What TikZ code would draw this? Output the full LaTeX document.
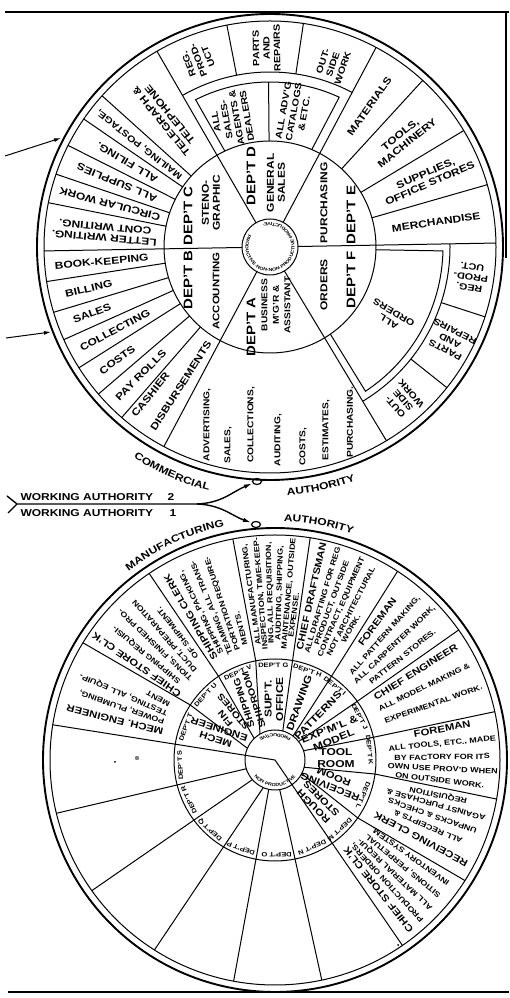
\documentclass[tikz,border=0pt]{standalone}
\usepackage{fontspec}
\setmainfont{Liberation Sans}[FakeStretch=1.2]
\usetikzlibrary{calc,decorations.text,arrows.meta}

% type sizes of the two wheels
\newcommand\wlab{\fontsize{10}{11}\selectfont\bfseries}
\newcommand\wsmall{\fontsize{9}{10.5}\selectfont\bfseries}
\newcommand\wdept{\fontsize{12.5}{14}\selectfont\bfseries}
\newcommand\wmid{\fontsize{10}{11.5}\selectfont\bfseries}
\newcommand\wtitle{\fontsize{9.5}{10}\selectfont\bfseries}
\newcommand\wbody{\fontsize{7.5}{8}\selectfont\bfseries}
\newcommand\wtag{\fontsize{6.3}{7}\selectfont\bfseries}
\newcommand\whub{\fontsize{4.4}{5}\selectfont\bfseries}
\newcommand\warc{\fontsize{10}{11}\selectfont\bfseries}

\begin{document}
\begin{tikzpicture}[x=1pt,y=1pt,line width=1pt,
		lab/.style={font=\wlab, align=center, inner sep=0pt},
		ttl/.style={font=\wtitle, inner sep=0pt},
		body/.style={font=\wbody, inner sep=0pt},
		ring/.style={line width=1.9pt},
		arctext/.style={decorate, decoration={text along path, text align=center, text={|\warc|#1}}},
		tip/.style={-{Latex[length=8pt,width=4.5pt]}}]
	\fill[white] (0,0) rectangle (509,998);
	\useasboundingbox (0,0) rectangle (509,998);
	% page edges
	\draw[line width=1.2pt] (5,986) -- (509,986);
	\draw[line width=1.2pt] (506,986) -- (506,740);
	\draw[line width=2pt] (8,6) -- (509,6);

	% ---------------- commercial wheel
	\coordinate (T) at (270,751);
	\draw[ring] (T) circle (233);
	\draw (T) circle (226);
	\draw (T) circle (106);
	\draw (T) circle (28);
	\foreach \ang in {1,62,120,181,242,301}
		\draw ($(T)+(\ang:28)$) -- ($(T)+(\ang:226)$);
	\foreach \ang in {138,145.5,153.3,161.2,168.7,188.8,196.8,204.2,212.3,220.6,229,16,31,47.5}
		\draw ($(T)+(\ang:106)$) -- ($(T)+(\ang:226)$);
	% sales boxes
	\draw ($(T)+(62:175)$) arc[start angle=62,end angle=120,radius=175];
	\foreach \ang in {81.5,101}
		\draw ($(T)+(\ang:175)$) -- ($(T)+(\ang:226)$);
	\draw ($(T)+(115.2:106)$) -- ($(T)+(116.8:165)$) arc[start angle=116.8,end angle=65.2,radius=165] -- ($(T)+(66.8:106)$);
	\draw ($(T)+(90.5:106)$) -- ($(T)+(90.5:165)$);
	% orders box
	\draw ($(T)+(1:180)$) arc[start angle=1,end angle=-59,radius=180];
	\draw ($(T)+(-1.5:106)$) -- ($(T)+(-1.3:173)$) arc[start angle=-1.3,end angle=-56.5,radius=173] -- ($(T)+(-55.3:106)$);
	\foreach \ang in {-18,-38.5}
		\draw ($(T)+(\ang:180)$) -- ($(T)+(\ang:226)$);
	\path[decorate, decoration={text along path, text={|\whub|PRODUCTIVE·NON·NON·PRODUCTIVE·PRODUCTIVE·}}] ($(T)+(150:24.5)$) arc[start angle=150,end angle=505,radius=24.5];

	\node[font=\wdept, rotate=90] (deptC) at ($(T)+(-82,31)$) {DEP'T C};
	\node[lab, rotate=90] (steno) at ($(T)+(-59,44)$) {STENO-\\GRAPHIC};
	\node[font=\wdept, rotate=90] (deptB) at ($(T)+(-82,-33)$) {DEP'T B};
	\node[lab, font={\fontsize{9.5}{11}\selectfont\bfseries}, rotate=90] (accounting) at ($(T)+(-54,-44)$) {ACCOUNTING};
	\node[font=\wdept, rotate=90] (deptD) at ($(T)+(-19,71)$) {DEP'T D};
	\node[lab, rotate=90] (sales) at ($(T)+(6,64)$) {GENERAL\\SALES};
	\node[lab, rotate=90] (purchasing) at ($(T)+(54,44)$) {PURCHASING};
	\node[font=\wdept, rotate=90] (deptE) at ($(T)+(81,32)$) {DEP'T E};
	\node[lab, rotate=90] (orders) at ($(T)+(54,-38)$) {ORDERS};
	\node[font=\wdept, rotate=90] (deptF) at ($(T)+(81,-33)$) {DEP'T F};
	\node[font=\wdept, rotate=90] (deptA) at ($(T)+(-19,-80)$) {DEP'T A};
	\node[lab, font={\fontsize{8.5}{11.5}\selectfont\bfseries}, rotate=90] (manager) at ($(T)+(6,-58)$) {BUSINESS\\M'G'R \&\\ASSISTANT};

	\foreach \ang/\rad/\rot/\txt [count=\i] in {
			129/166/129/{TELEGRAPH \&\\TELEPHONE},
			141.8/166/141.8/{{\wsmall MAILING, POSTAGE,}},
			149.4/166/149.4/{ALL FILING.},
			157.2/166/157.2/{ALL SUPPLIES},
			165/166/165/{CIRCULAR WORK},
			175/166/175/{LETTER WRITING.\\CONT WRITING.},
			185/169/5/{BOOK-KEEPING},
			193/186/13/{BILLING},
			200.5/190/20.5/{SALES},
			208.3/176/28.3/{COLLECTING},
			216.5/190/36.5/{COSTS},
			224.8/182/44.8/{PAY ROLLS},
			231/190/51/{CASHIER},
			237.3/165/57.3/{DISBURSEMENTS},
			54.7/172/54.7/{MATERIALS},
			39/172/39/{TOOLS,\\MACHINERY},
			23.5/172/23.5/{SUPPLIES,\\OFFICE STORES},
			8.5/168/8.5/{MERCHANDISE}}
		\node[lab, rotate=\rot] (outT\i) at ($(T)+(\ang:\rad)$) {\txt};
	\foreach \ang/\rad/\rot/\txt [count=\i] in {
			111/200/111/{REG.\\PROD-\\UCT},
			91/199/91/{PARTS\\AND\\REPAIRS},
			71/193/71/{OUT-\\SIDE\\WORK},
			106.7/134/100/{ALL\\SALES-\\AGENTS \&\\DEALERS},
			80/137/80/{ALL ADV'G\\CATALOGS\\\& ETC.},
			-8.5/203/171.5/{REG.\\PROD-\\UCT.},
			-27.5/203/152.5/{PARTS\\AND\\REPAIRS},
			-49/203/131/{OUT-\\SIDE\\WORK},
			-30/140/150/{ALL\\ORDERS}}
		\node[lab, font=\wsmall, rotate=\rot] (boxT\i) at ($(T)+(\ang:\rad)$) {\txt};
	\foreach \dx/\dy/\txt [count=\i] in {-63/-178/{ADVERTISING,}, -42/-198/{SALES,}, -19/-178/{COLLECTIONS,},
			8/-193/{AUDITING,}, 33/-200/{COSTS,}, 56/-183/{ESTIMATES,}, 80/-175/{PURCHASING.}}
		\node[lab, font={\fontsize{8.5}{10}\selectfont\bfseries}, rotate=90] (colA\i) at ($(T)+(\dx,\dy)$) {\txt};

	\path[arctext=COMMERCIAL] ($(T)+(-124:251)$) arc[start angle=-124,end angle=-103,radius=251];
	\path[arctext=AUTHORITY] ($(T)+(-88:249)$) arc[start angle=-88,end angle=-68,radius=249];

	% ---------------- manufacturing wheel
	\coordinate (B) at (275,238);
	\draw[ring] (B) circle (232);
	\draw (B) circle (225);
	\draw (B) circle (101);
	\draw (B) circle (30);
	\draw ($(B)+(171:225)$) -- (B) -- ($(B)+(-55.5:225)$);
	\foreach \h/\m/\o in {157/147/148.6, 134/124/124, 120/101/100.8, 75/80/81, 53/56/57,
			38/35.5/35.3, 18/13/12.4, -14/-8/-10, -27/-35/-32.4}
		\draw ($(B)+(\h:30)$) -- ($(B)+(\m:101)$) -- ($(B)+(\o:225)$);
	\foreach \h/\o in {-81/-78, -102/-100.6, -113/-122.4, -139/-144.5, -163/-166.3}
		\draw ($(B)+(\h:30)$) -- ($(B)+(\o:225)$);
	\path[decorate, decoration={text along path, text align=center, text={|\whub|PRODUCTIVE}}] ($(B)+(20:26.5)$) arc[start angle=20,end angle=160,radius=26.5];
	\path[decorate, decoration={text along path, text align=center, text={|\whub|NON PRODUCTIVE}}] ($(B)+(190:26.5)$) arc[start angle=190,end angle=350,radius=26.5];

	\foreach \ang/\l in {91/G,70/H,51/I,27/J,6/K,-22/L,-47/M,-67/N,-89/O,-111/P,-133/Q,-155/R,-177/S,160/T,137/U,113/V}
		\node[font=\wtag, inner sep=0pt, rotate=\ang-90] (dep\l) at ($(B)+(\ang:95)$) {DEP'T \l};

	\node[lab, font={\fontsize{9.5}{11}\selectfont\bfseries}, rotate=162] (mech) at ($(B)+(156:63)$) {MECH\\ENGINEER};
	\node[lab, font=\wsmall, rotate=130] (fin) at ($(B)+(135.5:64)$) {FIN\\STORES};
	\node[lab, font=\wsmall, rotate=108] (ship) at ($(B)+(114:64)$) {SHIPPING\\SHIPROOM};
	\node[lab, font=\wmid, rotate=90] (supt) at ($(B)+(91:61)$) {SUP'T.\\OFFICE};
	\node[lab, font=\wmid, rotate=70] (drawing) at ($(B)+(67:62)$) {DRAWING};
	\node[lab, font=\wmid, rotate=46] (patterns) at ($(B)+(46:62)$) {PATTERNS};
	\node[lab, font=\wmid, rotate=22] (model) at ($(B)+(24:62)$) {EXP'M'L \&\\MODEL};
	\node[lab, font=\wmid, rotate=0] (tool) at ($(B)+(2:61)$) {TOOL\\ROOM};
	\node[lab, font={\fontsize{9.5}{11}\selectfont\bfseries}, rotate=159] (recroom) at ($(B)+(-21:61)$) {RECEIVING\\ROOM};
	\node[lab, font={\fontsize{9.5}{11}\selectfont\bfseries}, rotate=135] (rough) at ($(B)+(-45:60)$) {ROUGH\\STORES};

	% heads of the outer cells
	\foreach \ang/\rad/\rot/\txt [count=\i] in {
			166/165/166/{MECH. ENGINEER},
			145.5/168/145.5/{CHIEF STORE CL'K},
			120.5/166/120.5/{SHIPPING CLERK},
			77.5/168/77.5/{CHIEF DRAFTSMAN},
			53.5/172/53.5/{FOREMAN},
			32/166/32/{CHIEF ENGINEER},
			10.5/170/10.5/{FOREMAN},
			-28.5/166/151.5/{RECEIVING CLERK},
			-51.5/166/128.5/{CHIEF STORE CL'K}}
		\node[ttl, rotate=\rot] (head\i) at ($(B)+(\ang:\rad)$) {\txt};
	% duties of the outer cells
	\foreach \ang/\rad/\rot/\txt [count=\i] in {
			161/162/161/{POWER, PLUMBING,},
			156.5/165/156.5/{TESTING, ALL EQUIP-},
			152.3/132/152.3/{MENT},
			140.5/166/140.5/{SHIPPING REQUISI-},
			136/166/136/{TIONS, FINISHED PRO-},
			131.5/166/131.5/{DUCT, PREPARATION},
			127.5/160/127.5/{OF SHIPMENT.},
			116.5/165/116.5/{SHIPPING, PACKING,},
			112.5/165/112.5/{TEAMING, ALL TRANS-},
			108.5/165/108.5/{PORTATION REQUIRE-},
			104.5/136/104.5/{MENTS.},
			98/167/98/{ALL MANUFACTURING,},
			94.8/167/94.8/{INSPECTION, TIME-KEEP-},
			91.6/167/91.6/{ING, ALL REQUISITION,},
			88.4/167/88.4/{AUDITING, SHIPPING,},
			85.2/167/85.2/{MAINTENANCE, OUTSIDE},
			82.6/146/82.6/{EXPENSE.},
			73.5/167/73.5/{ALL DRAFTING FOR REG},
			70/167/70/{PRODUCT, OUTSIDE},
			66.5/167/66.5/{CONTRACT, EQUIPMENT},
			63/167/63/{NOT ARCHITECTURAL},
			60/152/60/{WORK.},
			48.5/166/48.5/{ALL PATTERN MAKING,},
			43.8/166/43.8/{ALL CARPENTER WORK,},
			39/164/39/{PATTERN STORES.},
			26/166/26/{ALL MODEL MAKING \&},
			19.5/168/19.5/{EXPERIMENTAL WORK.},
			5.5/168/5.5/{ALL TOOLS, ETC., MADE},
			1/167/1/{BY FACTORY FOR ITS},
			-3/168/-3/{OWN USE PROV'D WHEN},
			-7/166/-7/{ON OUTSIDE WORK.},
			-23.5/167/156.5/{ALL RECEIPTS \&},
			-19.5/167/160.5/{UNPACKS \& CHECKS},
			-15.5/167/164.5/{AGAINST PURCHASE \&},
			-12/167/168/{REQUISITION},
			-47.5/166/132.5/{PRODUCTION ORDERS,},
			-43.5/166/136.5/{ALL MATERIAL REQUI-},
			-39.5/166/140.5/{SITIONS, PERPETUAL},
			-35.5/166/144.5/{INVENTORY SYSTEM.}}
		\node[body, rotate=\rot] (duty\i) at ($(B)+(\ang:\rad)$) {\txt};

	\path[arctext=MANUFACTURING] ($(B)+(130:239)$) arc[start angle=130,end angle=100,radius=239];
	\path[arctext=AUTHORITY] ($(B)+(90:239)$) arc[start angle=90,end angle=69,radius=239];

	% ---------------- working authority lines
	\node[font=\warc, anchor=base west, inner sep=0pt] (wa2) at (20,497) {WORKING AUTHORITY};
	\node[font=\warc, anchor=base west, inner sep=0pt] (num2) at (167,497) {2};
	\node[font=\warc, anchor=base west, inner sep=0pt] (wa1) at (20,481) {WORKING AUTHORITY};
	\node[font=\warc, anchor=base west, inner sep=0pt] (num1) at (169,481) {1};
	\coordinate (tailA) at (7,502);
	\coordinate (tailB) at (8,485);
	\coordinate (join) at (17,494);
	\coordinate (split) at (197,494);
	\coordinate (loopT) at (257,516.5);
	\coordinate (loopB) at (256,473.5);
	\draw[line width=1.4pt] (tailA) -- (join) -- (split);
	\draw[line width=1.2pt] (tailB) -- (join);
	\draw[tip, line width=1.4pt] (split) .. controls (222,495) and (232,506) .. ($(loopT)+(-5,-2)$);
	\draw[tip, line width=1.4pt] (split) .. controls (222,493) and (232,482) .. ($(loopB)+(-5,2)$);
	\draw[line width=1.2pt] (loopT) ellipse (4.5 and 3);
	\draw[line width=1.2pt] (loopB) ellipse (4.5 and 3);

	% arrows into the commercial wheel
	\coordinate (inA) at (5,842);
	\coordinate (hitA) at (61,860);
	\coordinate (inB) at (6,660);
	\coordinate (hitB) at (51,666);
	\draw[-{Latex[length=7pt,width=4pt]}] (inA) -- (hitA);
	\draw[-{Latex[length=7pt,width=4pt]}] (inB) -- (hitB);

	% specks
	\fill (115,236) circle (1);
	\fill[gray] (137,240) circle (2.2);
	\fill (398,53) circle (1);
\end{tikzpicture}
\end{document}
